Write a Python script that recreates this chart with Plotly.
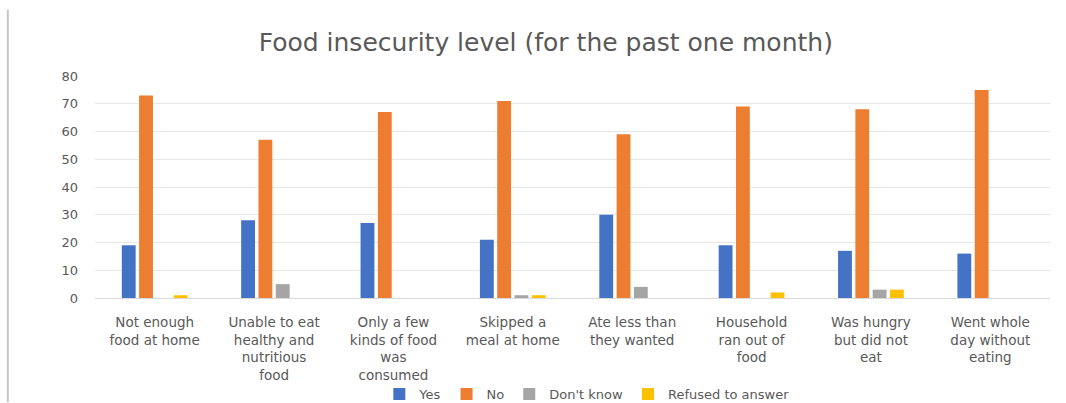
import plotly.graph_objects as go

categories = [
    "Not enough<br>food at home",
    "Unable to eat<br>healthy and<br>nutritious<br>food",
    "Only a few<br>kinds of food<br>was<br>consumed",
    "Skipped a<br>meal at home",
    "Ate less than<br>they wanted",
    "Household<br>ran out of<br>food",
    "Was hungry<br>but did not<br>eat",
    "Went whole<br>day without<br>eating",
]
yes_vals = [19, 28, 27, 21, 30, 19, 17, 16]
no_vals = [73, 57, 67, 71, 59, 69, 68, 75]
dont_know_vals = [0, 5, 0, 1, 4, 0, 3, 0]
refused_vals = [1, 0, 0, 1, 0, 2, 3, 0]

series = [
    ("Yes", yes_vals, "#4472C4"),
    ("No", no_vals, "#ED7D31"),
    ("Don't know", dont_know_vals, "#A5A5A5"),
    ("Refused to answer", refused_vals, "#FFC000"),
]

text_color = "#595959"
font_family = "DejaVu Sans"

fig = go.Figure()
for name, vals, color in series:
    fig.add_trace(go.Bar(name=name, x=categories, y=vals, marker_color=color,
                         marker_line_width=0))

fig.update_layout(
    width=1066, height=403,
    margin=dict(l=95, r=16, t=76, b=105),
    paper_bgcolor="white", plot_bgcolor="white",
    barmode="group", bargap=0.42, bargroupgap=0.2,
    title=dict(text="Food insecurity level (for the past one month)",
               x=0.512, xanchor="center", y=0.895, yanchor="middle",
               font=dict(family=font_family, size=25, color=text_color)),
    font=dict(family=font_family, color=text_color),
    legend=dict(orientation="h", x=0.515, xanchor="center",
                yref="container", y=0.022, yanchor="middle",
                bgcolor="rgba(0,0,0,0)",
                font=dict(size=13, color=text_color), itemwidth=30,
                traceorder="normal"),
    xaxis=dict(tickfont=dict(size=13.5, color=text_color), showline=True,
               linecolor="#d9d9d9", linewidth=1, ticks="",
               automargin=False, ticklabelstandoff=12),
    yaxis=dict(range=[0, 80], dtick=10, tickfont=dict(size=13, color=text_color),
               gridcolor="#e6e6e6", gridwidth=1, zeroline=False, ticks="",
               ticklabelstandoff=16, automargin=False),
    shapes=[dict(type="line", xref="paper", yref="paper",
                 x0=-0.0913, x1=-0.0913, y0=-0.47, y1=1.30,
                 line=dict(color="#c8c8c8", width=2))],
)

fig.write_html("out.html")
